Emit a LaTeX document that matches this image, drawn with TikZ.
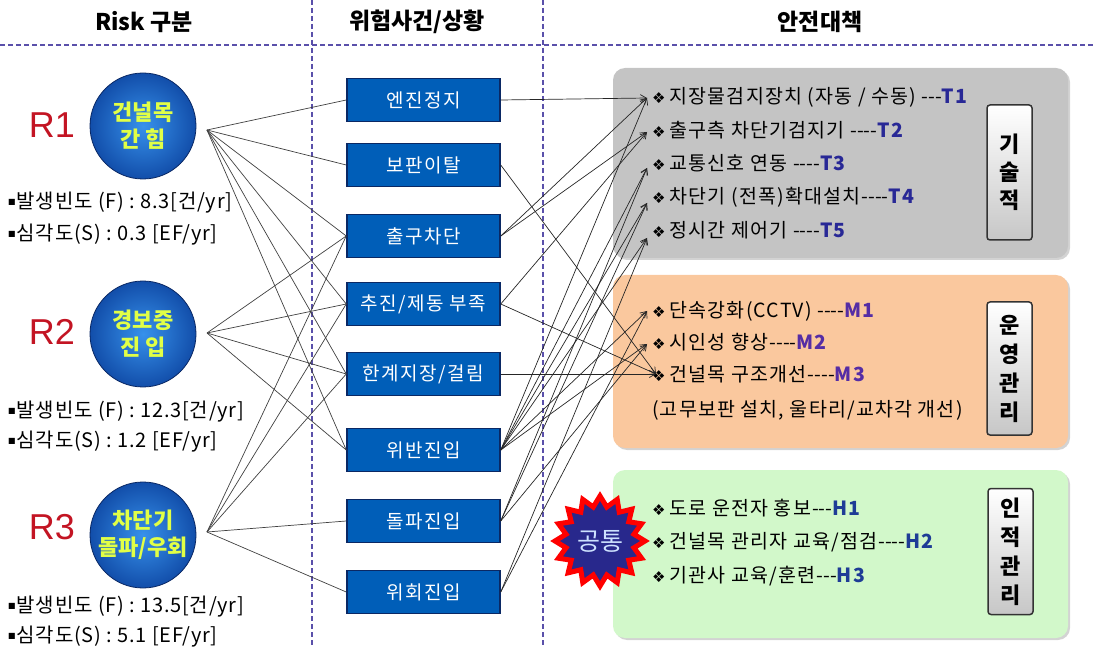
\documentclass[tikz,border=0pt]{standalone}
\usepackage{fontspec}
\setmainfont{Noto Sans CJK KR}
\newfontfamily\itemf[LetterSpace=6]{Noto Sans CJK KR}
\newfontfamily\statf[LetterSpace=4]{Noto Sans CJK KR}
\newfontfamily\boxf[LetterSpace=8]{Noto Sans CJK KR}
\newfontfamily\dejavu{DejaVu Sans}
\newfontfamily\libsans{Liberation Sans}
\usetikzlibrary{arrows.meta,shapes.geometric,shadows}
\definecolor{sepc}{RGB}{90,80,170}
\definecolor{rred}{RGB}{195,20,35}
\definecolor{boxblue}{RGB}{0,94,184}
\definecolor{boxedge}{RGB}{10,40,100}
\definecolor{ylw}{RGB}{225,255,70}
\definecolor{tcol}{RGB}{40,40,150}
\definecolor{mcol}{RGB}{85,45,165}
\definecolor{hcol}{RGB}{30,60,150}
\definecolor{graypan}{RGB}{196,196,196}
\definecolor{orgpan}{RGB}{250,200,158}
\definecolor{grnpan}{RGB}{210,248,202}
\definecolor{starblue}{RGB}{40,40,140}
\definecolor{startext}{RGB}{205,225,255}
\definecolor{ballin}{RGB}{55,145,235}
\definecolor{ballout}{RGB}{18,78,170}
\newcommand\bul{{\dejavu\fontsize{15}{15}\selectfont ❖}\hspace{4pt}}
\newcommand\sq{\raisebox{4pt}{\dejavu\fontsize{8}{8}\selectfont ■}\hspace{1pt}}
\newcommand\dthree{-\kern0pt-\kern0pt-}
\newcommand\dfour{-\kern0pt-\kern0pt-\kern0pt-}
\begin{document}
\begin{tikzpicture}[x=1pt,y=-1pt,
  hdr/.style={font=\fontsize{23}{26}\selectfont\bfseries, inner sep=0},
  sepline/.style={draw=sepc, line width=1.6pt, dash pattern=on 5pt off 3pt},
  ball/.style={circle, minimum size=106pt, inner sep=0, draw=boxedge, line width=0.8pt,
    inner color=ballin, outer color=ballout, text=ylw, align=center,
    font=\fontsize{22}{27}\selectfont\bfseries},
  rlab/.style={font=\libsans\fontsize{36}{38}\selectfont, text=rred, inner sep=0},
  stat/.style={anchor=west, font=\statf\fontsize{20}{22}\selectfont, inner sep=0},
  ev/.style={draw=boxedge, line width=1.5pt, fill=boxblue, minimum width=153pt,
    minimum height=43pt, text=white, font=\boxf\fontsize{19}{21}\selectfont, inner sep=0},
  lk/.style={draw=black!75, line width=0.7pt},
  ar/.style={draw=black!85, line width=0.7pt, -{Straight Barb[length=6pt,width=7pt]}},
  panel/.style={rounded corners=12pt, minimum width=455pt, inner sep=0,
    drop shadow={shadow xshift=2pt, shadow yshift=-2pt, opacity=0.35}},
  tag/.style={draw=black!80, line width=1.5pt, rounded corners=3pt, top color=white,
    bottom color=black!22, minimum width=45pt, align=center, inner sep=0,
    font=\fontsize{22}{28}\selectfont\bfseries},
  item/.style={anchor=west, font=\itemf\fontsize{19.5}{21}\selectfont, inner sep=0}
]
\useasboundingbox (0,0) rectangle (1096,647);

% separators
\draw[sepline] (0,45) -- (1096,45);
\draw[sepline] (312,0) -- (312,647);
\draw[sepline] (543,0) -- (543,647);

% headers
\node[hdr] (h1) at (144,22) {Risk 구분};
\node[hdr] (h2) at (417,22) {위험사건/상황};
\node[hdr] (h3) at (820,22) {안전대책};

% panels
\node[panel, fill=graypan, minimum height=190pt] (tp) at (840.5,163) {};
\node[panel, fill=orgpan, minimum height=173pt] (op) at (840.5,361.5) {};
\node[panel, fill=grnpan, minimum height=168pt] (hp) at (840.5,554) {};

\node[tag, minimum height=135pt] (tg1) at (1009.5,172.5) {기\\술\\적};
\node[tag, minimum height=133pt, font=\fontsize{22}{29}\selectfont\bfseries] (tg2) at (1009.5,368.5) {운\\영\\관\\리};
\node[tag, minimum height=126pt, font=\fontsize{22}{29}\selectfont\bfseries] (tg3) at (1010.5,551.5) {인\\적\\관\\리};

% items
\node[item] (T1) at (652,97) {\bul 지장물검지장치 (자동 / 수동) \dthree\textcolor{tcol}{\bfseries T1}};
\node[item] (T2) at (652,130) {\bul 출구측 차단기검지기 \dfour\textcolor{tcol}{\bfseries T2}};
\node[item] (T3) at (652,163) {\bul 교통신호 연동 \dfour\textcolor{tcol}{\bfseries T3}};
\node[item] (T4) at (652,197) {\bul 차단기 (전폭)확대설치\dfour\textcolor{tcol}{\bfseries T4}};
\node[item] (T5) at (652,230) {\bul 정시간 제어기 \dfour\textcolor{tcol}{\bfseries T5}};
\node[item] (M1) at (652,311) {\bul 단속강화(CCTV) \dfour\textcolor{mcol}{\bfseries M1}};
\node[item] (M2) at (652,342) {\bul 시인성 향상\dfour\textcolor{mcol}{\bfseries M2}};
\node[item] (M3) at (652,374) {\bul 건널목 구조개선\dfour\textcolor{mcol}{\bfseries M3}};
\node[item] (M3s) at (652,410) {(고무보판 설치, 울타리/교차각 개선)};
\node[item] (H1) at (652,508) {\bul 도로 운전자 홍보\dthree\textcolor{hcol}{\bfseries H1}};
\node[item] (H2) at (652,542) {\bul 건널목 관리자 교육/점검\dfour\textcolor{hcol}{\bfseries H2}};
\node[item] (H3) at (652,576) {\bul 기관사 교육/훈련\dthree\textcolor{hcol}{\bfseries H3}};

% star
\node[star, star points=16, star point ratio=1.3, minimum size=90pt, inner sep=0,
  fill=starblue, draw=red, line width=5pt, text=startext,
  font=\fontsize{25}{25}\selectfont] (st) at (600,541) {공통};

% risk circles
\node[ball] (c1) at (143,126) {건널목\\간 힘};
\node[ball] (c2) at (143,334) {경보중\\진 입};
\node[ball] (c3) at (143,535) {차단기\\돌파/우회};
\node[rlab] (r1) at (52,125) {R1};
\node[rlab] (r2) at (52,332) {R2};
\node[rlab] (r3) at (52,527) {R3};

\node[stat] (s1a) at (8,203) {\sq 발생빈도 (F) : 8.3[건/yr]};
\node[stat] (s1b) at (8,235) {\sq 심각도(S) : 0.3 [EF/yr]};
\node[stat] (s2a) at (8,412) {\sq 발생빈도 (F) : 12.3[건/yr]};
\node[stat] (s2b) at (8,442) {\sq 심각도(S) : 1.2 [EF/yr]};
\node[stat] (s3a) at (8,607) {\sq 발생빈도 (F) : 13.5[건/yr]};
\node[stat] (s3b) at (8,637) {\sq 심각도(S) : 5.1 [EF/yr]};

% event boxes
\node[ev] (e1) at (423.5,100) {엔진정지};
\node[ev] (e2) at (423.5,165) {보판이탈};
\node[ev] (e3) at (423.5,236) {출구차단};
\node[ev] (e4) at (423.5,304) {추진/제동 부족};
\node[ev] (e5) at (423.5,374) {한계지장/걸림};
\node[ev] (e6) at (423.5,450) {위반진입};
\node[ev] (e7) at (423.5,521) {돌파진입};
\node[ev] (e8) at (423.5,592) {위회진입};

% connector points
\coordinate (p1) at (207,130);
\coordinate (p2) at (207,333);
\coordinate (p3) at (207,532);
\coordinate (t1) at (647,98);
\coordinate (t2) at (647,132);
\coordinate (t3) at (647,168);
\coordinate (t4) at (647,203);
\coordinate (t5) at (647,238);
\coordinate (m1) at (647,311);
\coordinate (m2) at (647,344);
\coordinate (m3) at (656,374);

% left links
\foreach \b in {e1,e2,e3,e4,e5,e6} \draw[lk] (p1) -- (\b.west);
\foreach \b in {e3,e4,e5,e6} \draw[lk] (p2) -- (\b.west);
\foreach \b in {e3,e4,e5,e7,e8} \draw[lk] (p3) -- (\b.west);

% right arrows
\draw[ar] (e1.east) -- (t1);
\draw[ar] (e2.east) -- (m3);
\draw[ar] (e3.east) -- (t1);
\draw[ar] (e3.east) -- (t2);
\draw[ar] (e4.east) -- (t2);
\draw[ar] (e4.east) -- (m3);
\draw[ar] (e5.east) -- (m3);
\foreach \t in {t1,t3,t4,t5,m1,m2} \draw[ar] (e6.east) -- (\t);
\foreach \t in {t3,t4,m2} \draw[ar] (e7.east) -- (\t);
\foreach \t in {t5,m1} \draw[ar] (e8.east) -- (\t);
\end{tikzpicture}
\end{document}
